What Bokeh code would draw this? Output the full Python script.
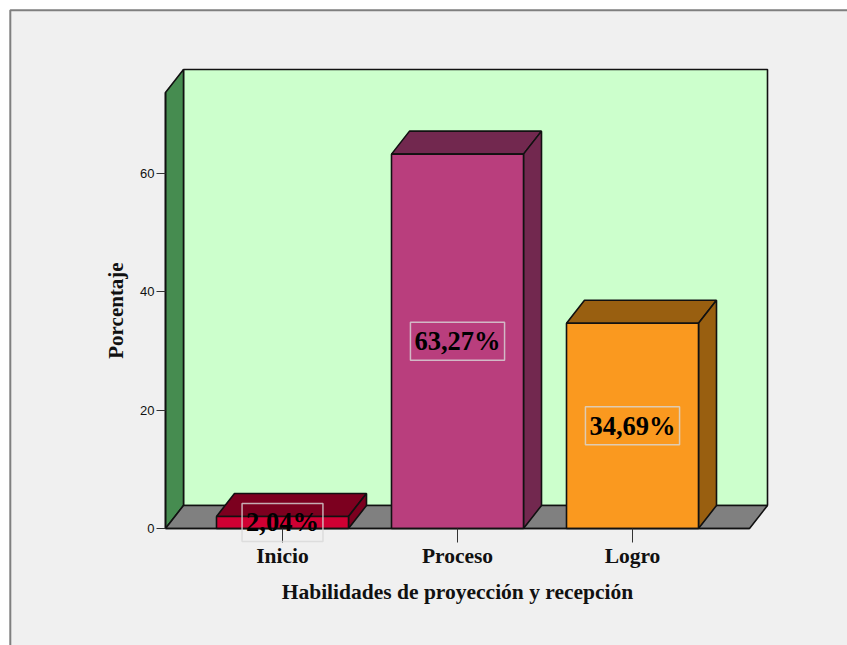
from bokeh.plotting import figure
from bokeh.models import LinearAxis, FixedTicker, Label, Range1d
from bokeh.embed import file_html
from bokeh.resources import INLINE

categories = ["Inicio", "Proceso", "Logro"]
values = [2.04, 63.27, 34.69]
value_labels = ["2,04%", "63,27%", "34,69%"]
y_ticks = [0, 20, 40, 60]
x_title = "Habilidades de proyección y recepción"
y_title = "Porcentaje"

front_colors = ["#cf0033", "#b93e7d", "#fa991f"]
top_colors = ["#7c001f", "#72284f", "#995f10"]
side_colors = ["#7c001f", "#72284f", "#995f10"]

W, H = 847, 645
PX_X = 175.0
PX_Y = 5.917
x0 = 1 + (0 - 282) / PX_X
x1 = x0 + W / PX_X
y1 = 528 / PX_Y
y0 = y1 - H / PX_Y

xpos = [i + 1 for i in range(len(categories))]
bar_w = 132 / PX_X
dx = 18 / PX_X
dy = 23 / PX_Y
ax_l, ax_r = 1 + (165 - 282) / PX_X, 1 + (749 - 282) / PX_X
ax_top = (528 - 92) / PX_Y

p = figure(width=W, height=H, output_backend="svg", toolbar_location=None,
           x_range=Range1d(x0, x1), y_range=Range1d(y0, y1),
           x_axis_location=None, y_axis_location=None,
           min_border=0, min_border_left=0, min_border_right=0,
           min_border_top=0, min_border_bottom=0)
p.grid.visible = False
p.outline_line_color = None
p.background_fill_color = "white"
p.border_fill_color = "white"

# outer panel
pl, pt = x0 + 9.8 / PX_X, y1 - 9.8 / PX_Y
p.quad(left=pl, right=x1 + 1, top=pt, bottom=y0 - 5,
       fill_color="#f0f0f0", line_color="#7f7f7f", line_width=2)

LW = 1.6
# back wall
p.quad(left=ax_l + dx, right=ax_r + dx, bottom=dy, top=ax_top + dy,
       fill_color="#ccffcc", line_color="#111111", line_width=LW)
# left wall
p.patch([ax_l, ax_l + dx, ax_l + dx, ax_l], [0, dy, ax_top + dy, ax_top],
        fill_color="#468c50", line_color="#111111", line_width=LW)
# floor
p.patch([ax_l, ax_r, ax_r + dx, ax_l + dx], [0, 0, dy, dy],
        fill_color="#808080", line_color="#111111", line_width=LW)

# 3D bars
for xc, v, fc, tc, sc in zip(xpos, values, front_colors, top_colors, side_colors):
    l, r = xc - bar_w / 2, xc + bar_w / 2
    p.patch([l, r, r + dx, l + dx], [v, v, v + dy, v + dy],
            fill_color=tc, line_color="#111111", line_width=LW)
    p.patch([r, r + dx, r + dx, r], [0, dy, v + dy, v],
            fill_color=sc, line_color="#111111", line_width=LW)
    p.quad(left=l, right=r, bottom=0, top=v,
           fill_color=fc, line_color="#111111", line_width=LW)

# axes
xax = LinearAxis(fixed_location=0, ticker=FixedTicker(ticks=xpos),
                 major_label_overrides={x: c for x, c in zip(xpos, categories)},
                 bounds=(ax_l, ax_r), axis_label=x_title,
                 axis_label_text_font="Liberation Serif", axis_label_text_font_style="bold",
                 axis_label_text_font_size="21.5px", axis_label_text_color="#111111",
                 axis_label_standoff=9,
                 major_label_text_font="Liberation Serif", major_label_text_font_style="bold",
                 major_label_text_font_size="21.5px", major_label_text_color="#111111",
                 major_label_standoff=1, major_tick_out=14, major_tick_in=0,
                 minor_tick_out=0, minor_tick_in=0,
                 major_tick_line_color="#333333", axis_line_color="#111111", axis_line_width=1.6)
yax = LinearAxis(fixed_location=ax_l, ticker=FixedTicker(ticks=y_ticks),
                 bounds=(0, ax_top), axis_label=y_title,
                 axis_label_text_font="Liberation Serif", axis_label_text_font_style="bold",
                 axis_label_text_font_size="21px", axis_label_text_color="#111111",
                 axis_label_standoff=9,
                 major_label_text_font="Liberation Sans", major_label_text_font_size="13px",
                 major_label_text_color="#111111", major_label_standoff=2,
                 major_tick_out=9, major_tick_in=0, minor_tick_out=0, minor_tick_in=0,
                 major_tick_line_color="#333333", axis_line_color="#111111", axis_line_width=1.6)
p.add_layout(xax, "below")
p.add_layout(yax, "left")

# value labels with boxes
for xc, v, t in zip(xpos, values, value_labels):
    p.add_layout(Label(x=xc, y=v / 2, text=t, text_align="center", text_baseline="middle",
                       text_font="Liberation Serif", text_font_style="bold",
                       text_font_size="26.5px", text_color="black",
                       padding=4, border_line_color="#d8d8d8", border_line_width=1.5,
                       border_line_alpha=0.8, background_fill_alpha=0))

open("out.html", "w").write(file_html(p, INLINE))
